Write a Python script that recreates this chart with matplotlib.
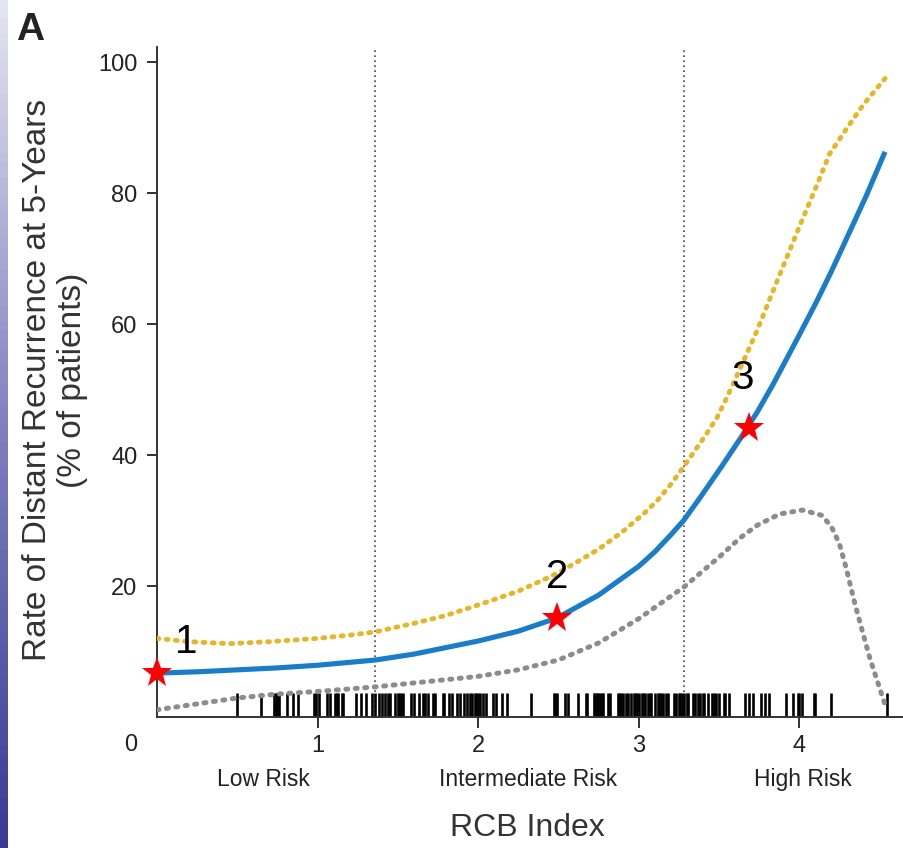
import matplotlib
matplotlib.use("Agg")
import matplotlib.pyplot as plt
import numpy as np
from matplotlib.colors import LinearSegmentedColormap

plt.rcParams["font.family"] = ["Liberation Sans", "DejaVu Sans"]

# Predicted rate of distant recurrence (solid) with upper / lower bounds (dotted)
BLUE_X = [0.0, 0.25, 0.5, 0.75, 1.0, 1.36, 1.6, 1.8, 2.0, 2.25, 2.49, 2.75, 3.0,
          3.1, 3.2, 3.28, 3.38, 3.51, 3.63, 3.74, 3.84, 3.92, 4.0, 4.11, 4.2, 4.3,
          4.42, 4.535]
BLUE_Y = [6.7, 6.9, 7.2, 7.5, 7.9, 8.7, 9.6, 10.6, 11.6, 13.1, 15.1, 18.6, 23.0,
          25.2, 27.8, 30.0, 33.4, 38.0, 42.4, 46.6, 50.9, 54.6, 58.3, 63.5, 68.0, 73.3,
          79.7, 86.3]

UPPER_X = [0.0, 0.2, 0.45, 0.7, 1.0, 1.2, 1.36, 1.6, 1.8, 2.0, 2.25, 2.5, 2.75,
           2.9, 3.03, 3.115, 3.2, 3.28, 3.36, 3.425, 3.49, 3.55, 3.61, 3.674, 3.736,
           3.81, 3.9, 4.0, 4.1, 4.19, 4.3, 4.4, 4.535]
UPPER_Y = [12.0, 11.5, 11.2, 11.5, 12.0, 12.5, 13.0, 14.3, 15.5, 17.1, 19.2, 22.0, 25.6,
           28.3, 31.0, 33.0, 35.5, 38.2, 41.0, 43.3, 45.8, 48.8, 52.0, 55.5, 58.9,
           63.4, 68.8, 74.8, 80.6, 86.0, 90.0, 93.5, 97.5]

LOWER_X = [0.0, 0.25, 0.5, 0.75, 1.0, 1.36, 1.6, 1.8, 2.0, 2.25, 2.5, 2.75, 3.0,
           3.28, 3.51, 3.63, 3.74, 3.88, 4.02, 4.14, 4.2, 4.25, 4.29, 4.35, 4.44, 4.54]
LOWER_Y = [1.1, 2.0, 2.9, 3.5, 3.9, 4.6, 5.2, 5.7, 6.2, 7.2, 8.7, 11.3, 15.0,
           19.8, 24.6, 27.3, 29.3, 31.0, 31.6, 30.8, 29.1, 26.5, 23.0, 17.0, 9.0, 1.5]

# Individual patient RCB index values (rug)
RUG = [0.50, 0.65, 0.73, 0.74, 0.75, 0.76, 0.81, 0.85, 0.88, 0.975, 0.99, 1.01,
       1.06, 1.08, 1.11, 1.12, 1.13, 1.15, 1.16, 1.24, 1.27, 1.30, 1.34, 1.36,
       1.38, 1.40, 1.42, 1.44, 1.45, 1.485, 1.50, 1.51, 1.52, 1.53, 1.58, 1.60,
       1.63, 1.66, 1.67, 1.69, 1.72, 1.73, 1.78, 1.79, 1.82, 1.84, 1.87, 1.89,
       1.91, 1.93, 1.95, 1.96, 1.98, 1.99, 2.00, 2.01, 2.03, 2.05, 2.09, 2.11,
       2.15, 2.18, 2.33, 2.47, 2.48, 2.49, 2.54, 2.56, 2.62, 2.67, 2.68, 2.72,
       2.73, 2.74, 2.75, 2.76, 2.77, 2.78, 2.81, 2.82, 2.87, 2.88, 2.89, 2.90,
       2.92, 2.935, 2.95, 2.97, 2.98, 2.99, 3.00, 3.02, 3.03, 3.04, 3.06, 3.07,
       3.08, 3.10, 3.12, 3.13, 3.14, 3.15, 3.17, 3.18, 3.22, 3.23, 3.25, 3.26,
       3.27, 3.28, 3.30, 3.31, 3.34, 3.35, 3.37, 3.38, 3.40, 3.41, 3.43, 3.46,
       3.47, 3.48, 3.50, 3.53, 3.54, 3.56, 3.66, 3.69, 3.71, 3.76, 3.79, 3.81,
       3.92, 3.96, 3.99, 4.00, 4.02, 4.09, 4.10, 4.20, 4.55]

CUTOFFS = [1.36, 3.28]
STAR_X = [0.0, 2.49, 3.69]
STAR_Y = [6.7, 15.1, 44.2]
STAR_LABELS = ["1", "2", "3"]
STAR_LABEL_POS = [(0.18, 11.4), (2.49, 21.3), (3.65, 51.8)]

RISK_LABELS = ["Low Risk", "Intermediate Risk", "High Risk"]
RISK_X = [0.665, 2.31, 4.02]

BLUE = "#1a7dc9"
GOLD = "#e6b627"
GREY = "#8c8c8c"
INK = "#222222"

fig = plt.figure(figsize=(9.04, 8.48), dpi=100)
ax = fig.add_axes([157 / 904, 1 - 717 / 848, 1 - 157 / 904, 670 / 848])

# slide edge strip on the far left
strip = fig.add_axes([0, 0, 8 / 904, 1])
cmap = LinearSegmentedColormap.from_list("edge", ["#e4e4f2", "#8080c0", "#3a3a92"])
strip.imshow(np.linspace(0, 1, 100).reshape(-1, 1), aspect="auto", cmap=cmap)
strip.axis("off")

for c in CUTOFFS:
    ax.axvline(c, color="#444444", linewidth=1.2, linestyle=(0, (1, 2)), zorder=1)

ax.vlines(RUG, 0, 3.6, color="black", linewidth=1.9, zorder=2)

ax.plot(LOWER_X, LOWER_Y, color=GREY, linewidth=3.6, linestyle=(0, (0.4, 1.5)),
        dash_capstyle="round", zorder=3)
ax.plot(UPPER_X, UPPER_Y, color=GOLD, linewidth=3.5, linestyle=(0, (0.4, 1.5)),
        dash_capstyle="round", zorder=3)
ax.plot(BLUE_X, BLUE_Y, color=BLUE, linewidth=3.7, solid_capstyle="butt", zorder=4)

ax.plot(STAR_X, STAR_Y, linestyle="none", marker="*", markersize=23,
        color="#ff0000", markeredgewidth=0, zorder=6, clip_on=False)
for lab, (lx, ly) in zip(STAR_LABELS, STAR_LABEL_POS):
    ax.text(lx, ly, lab, fontsize=29, ha="center", va="center", color="black", zorder=7)

ax.set_xlim(0, 4.653)
ax.set_ylim(0, 102.3)
ax.set_xticks([1, 2, 3, 4])
ax.set_yticks([20, 40, 60, 80, 100])
ax.tick_params(axis="x", length=8, width=1.3, pad=5, labelsize=17, colors=INK)
ax.tick_params(axis="y", length=7, width=1.3, pad=7, labelsize=17, colors=INK)
for side in ("top", "right"):
    ax.spines[side].set_visible(False)
for side in ("left", "bottom"):
    ax.spines[side].set_linewidth(1.4)
    ax.spines[side].set_color("#333333")

xt = ax.get_xaxis_transform()
ax.text(-0.164, -0.042, "0", transform=xt, fontsize=17, color=INK,
        ha="center", va="center", clip_on=False)
for lab, rx in zip(RISK_LABELS, RISK_X):
    ax.text(rx, -0.094, lab, transform=xt, fontsize=16.5, color=INK,
            ha="center", va="center", clip_on=False)
ax.text(2.31, -0.166, "RCB Index", transform=xt, fontsize=23, color="#333333",
        ha="center", va="center", clip_on=False)

fig.text(55 / 904, 1 - 380 / 848,
         "Rate of Distant Recurrence at 5-Years\n(% of patients)",
         rotation=90, fontsize=24, color="#333333", ha="center", va="center",
         multialignment="center", linespacing=1.2)
fig.text(30 / 904, 1 - 30 / 848, "A", fontsize=28, fontweight="bold",
         color="#222222", ha="center", va="center")

fig.savefig("out.png", dpi=100)
